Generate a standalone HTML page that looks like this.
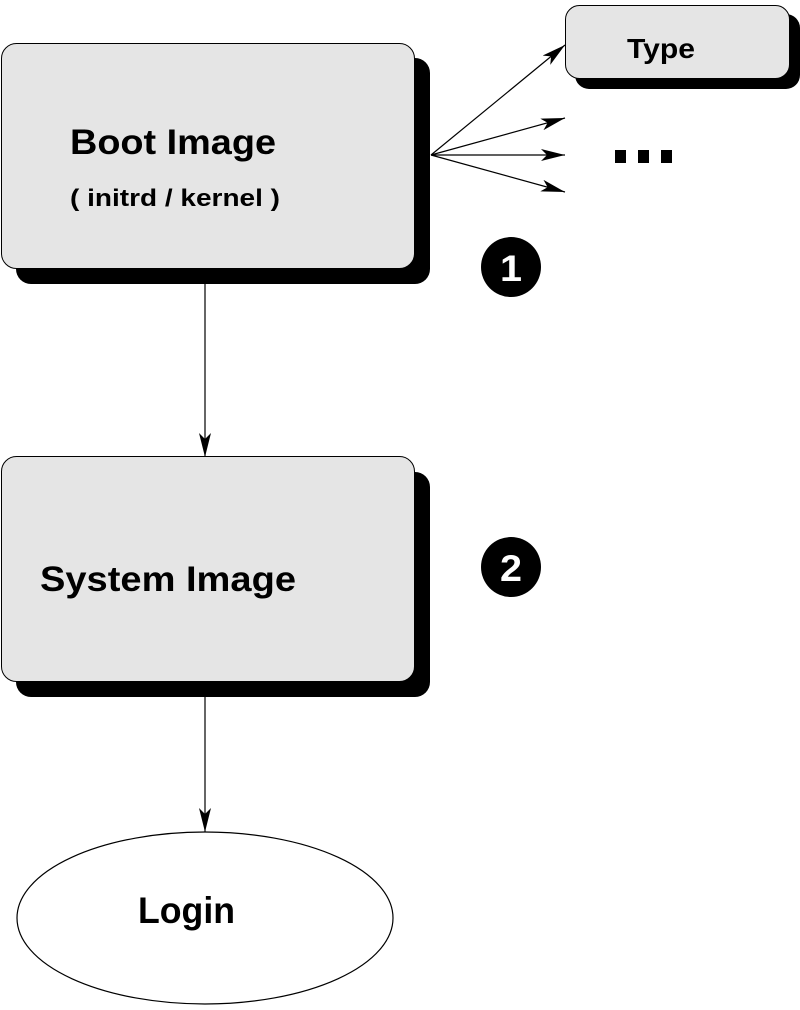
<!DOCTYPE html>
<html><head><meta charset="utf-8"><style>
html,body{margin:0;padding:0;background:#fff;}
svg{display:block;}
text{font-family:"Liberation Sans",sans-serif;font-weight:bold;fill:#000;}
</style></head><body>
<svg width="800" height="1010" viewBox="0 0 800 1010" xmlns="http://www.w3.org/2000/svg">
<defs>
<marker id="ah" markerWidth="24" markerHeight="12" refX="24" refY="6" orient="auto" markerUnits="userSpaceOnUse">
<path d="M0,0 L24,6 L0,12 L6,6 Z" fill="#000"/>
</marker>
</defs>
<rect x="16" y="58" width="414" height="226" rx="15" fill="#000"/>
<rect x="1.5" y="43.5" width="413" height="225" rx="15" fill="#e5e5e5" stroke="#000" stroke-width="1"/>
<text x="70" y="154" font-size="35" textLength="206" lengthAdjust="spacingAndGlyphs">Boot Image</text>
<text x="70" y="206" font-size="24" textLength="210" lengthAdjust="spacingAndGlyphs">( initrd / kernel )</text>
<rect x="575" y="14" width="225" height="75" rx="14" fill="#000"/>
<rect x="565.5" y="5.5" width="224" height="73" rx="14" fill="#e5e5e5" stroke="#000" stroke-width="1"/>
<text x="627" y="58" font-size="28" textLength="68" lengthAdjust="spacingAndGlyphs">Type</text>
<g stroke="#000" stroke-width="1.2" fill="none">
<line x1="431" y1="155" x2="565" y2="45" marker-end="url(#ah)"/>
<line x1="431" y1="155" x2="565" y2="118" marker-end="url(#ah)"/>
<line x1="431" y1="155" x2="565" y2="155" marker-end="url(#ah)"/>
<line x1="431" y1="155" x2="565" y2="192" marker-end="url(#ah)"/>
</g>
<rect x="615" y="150" width="11" height="13" fill="#000"/>
<rect x="638" y="150" width="11" height="13" fill="#000"/>
<rect x="661" y="150" width="11" height="13" fill="#000"/>
<circle cx="511" cy="267" r="30" fill="#000"/>
<text x="511" y="281" font-size="37" style="fill:#fff" text-anchor="middle" textLength="22" lengthAdjust="spacingAndGlyphs">1</text>
<circle cx="511" cy="567" r="30" fill="#000"/>
<text x="511" y="581" font-size="37" style="fill:#fff" text-anchor="middle" textLength="22" lengthAdjust="spacingAndGlyphs">2</text>
<line x1="205" y1="284" x2="205" y2="457" stroke="#000" stroke-width="1.2" marker-end="url(#ah)"/>
<line x1="205" y1="697" x2="205" y2="832" stroke="#000" stroke-width="1.2" marker-end="url(#ah)"/>
<rect x="16" y="472" width="414" height="225" rx="15" fill="#000"/>
<rect x="1.5" y="456.5" width="413" height="225" rx="15" fill="#e5e5e5" stroke="#000" stroke-width="1"/>
<text x="40" y="591" font-size="35" textLength="256" lengthAdjust="spacingAndGlyphs">System Image</text>
<ellipse cx="205" cy="918" rx="188" ry="86" fill="#fff" stroke="#000" stroke-width="1.2"/>
<text x="138" y="923" font-size="37" textLength="97" lengthAdjust="spacingAndGlyphs">Login</text>
</svg>
</body></html>
